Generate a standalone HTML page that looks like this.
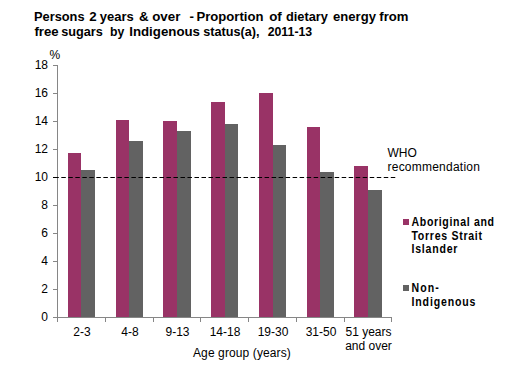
<!DOCTYPE html>
<html><head><meta charset="utf-8"><style>
html,body{margin:0;padding:0;background:#fff;width:505px;height:369px;overflow:hidden}
svg{display:block}
text{font-family:"Liberation Sans",sans-serif;fill:#000}
.t{font-size:13.33px;font-weight:bold}
.a{font-size:12px}
.l{font-size:12px;font-weight:bold}
</style></head><body>
<svg width="505" height="369" viewBox="0 0 505 369">
<rect width="505" height="369" fill="#fff"/>
<text class="t" x="34" y="21" textLength="50.56" lengthAdjust="spacingAndGlyphs">Persons</text><text class="t" x="89.2" y="21">2</text><text class="t" x="99.7" y="21" textLength="34.01" lengthAdjust="spacingAndGlyphs">years</text><text class="t" x="138.95" y="21">&amp;</text><text class="t" x="152.2" y="21">over</text><text class="t" x="189.4" y="21">-</text><text class="t" x="196.5" y="21" textLength="66.90" lengthAdjust="spacingAndGlyphs">Proportion</text><text class="t" x="269.2" y="21">of</text><text class="t" x="285.9" y="21" textLength="42.01" lengthAdjust="spacingAndGlyphs">dietary</text><text class="t" x="333.1" y="21" textLength="42.89" lengthAdjust="spacingAndGlyphs">energy</text><text class="t" x="379.3" y="21" textLength="29.12" lengthAdjust="spacingAndGlyphs">from</text>
<text class="t" x="34.4" y="35.5" textLength="24.21" lengthAdjust="spacingAndGlyphs">free</text><text class="t" x="61.14" y="35.5" textLength="41.66" lengthAdjust="spacingAndGlyphs">sugars</text><text class="t" x="110" y="35.5" textLength="14.32" lengthAdjust="spacingAndGlyphs">by</text><text class="t" x="129.2" y="35.5" textLength="70.81" lengthAdjust="spacingAndGlyphs">Indigenous</text><text class="t" x="203.2" y="35.5" textLength="56.29" lengthAdjust="spacingAndGlyphs">status(a),</text><text class="t" x="267.65" y="35.5" textLength="44.57" lengthAdjust="spacingAndGlyphs">2011-13</text>

<rect x="68" y="153" width="13" height="164" fill="#993366"/><rect x="81" y="170" width="14" height="147" fill="#626262"/><rect x="116" y="120" width="13" height="197" fill="#993366"/><rect x="129" y="141" width="14" height="176" fill="#626262"/><rect x="163" y="121" width="14" height="196" fill="#993366"/><rect x="177" y="131" width="14" height="186" fill="#626262"/><rect x="211" y="102" width="14" height="215" fill="#993366"/><rect x="225" y="124" width="13" height="193" fill="#626262"/><rect x="259" y="93" width="14" height="224" fill="#993366"/><rect x="273" y="145" width="13" height="172" fill="#626262"/><rect x="307" y="127" width="13" height="190" fill="#993366"/><rect x="320" y="172" width="14" height="145" fill="#626262"/><rect x="354" y="166" width="14" height="151" fill="#993366"/><rect x="368" y="190" width="14" height="127" fill="#626262"/>
<rect x="57" y="65" width="1" height="257" fill="#868686"/><rect x="53" y="65" width="4" height="1" fill="#868686"/><rect x="53" y="93" width="4" height="1" fill="#868686"/><rect x="53" y="121" width="4" height="1" fill="#868686"/><rect x="53" y="149" width="4" height="1" fill="#868686"/><rect x="53" y="177" width="4" height="1" fill="#868686"/><rect x="53" y="205" width="4" height="1" fill="#868686"/><rect x="53" y="233" width="4" height="1" fill="#868686"/><rect x="53" y="261" width="4" height="1" fill="#868686"/><rect x="53" y="289" width="4" height="1" fill="#868686"/><rect x="53" y="317" width="4" height="1" fill="#868686"/><rect x="57" y="317" width="335" height="1" fill="#868686"/><rect x="57" y="317" width="1" height="5" fill="#868686"/><rect x="105" y="317" width="1" height="5" fill="#868686"/><rect x="153" y="317" width="1" height="5" fill="#868686"/><rect x="200" y="317" width="1" height="5" fill="#868686"/><rect x="248" y="317" width="1" height="5" fill="#868686"/><rect x="296" y="317" width="1" height="5" fill="#868686"/><rect x="344" y="317" width="1" height="5" fill="#868686"/><rect x="391" y="317" width="1" height="5" fill="#868686"/>
<line x1="53" y1="177.5" x2="58.8" y2="177.5" stroke="#000" stroke-width="1"/><line x1="61.3" y1="177.5" x2="395.5" y2="177.5" stroke="#000" stroke-width="1" stroke-dasharray="4.5 2.51"/>
<g class="a">
<text x="49.4" y="59">%</text>
<text x="48" y="68.5" text-anchor="end">18</text><text x="48" y="96.5" text-anchor="end">16</text><text x="48" y="124.5" text-anchor="end">14</text><text x="48" y="152.5" text-anchor="end">12</text><text x="48" y="180.5" text-anchor="end">10</text><text x="48" y="208.5" text-anchor="end">8</text><text x="48" y="236.5" text-anchor="end">6</text><text x="48" y="264.5" text-anchor="end">4</text><text x="48" y="292.5" text-anchor="end">2</text><text x="48" y="320.5" text-anchor="end">0</text>
<text x="82.0" y="336" text-anchor="middle">2-3</text><text x="130.0" y="336" text-anchor="middle">4-8</text><text x="177.5" y="336" text-anchor="middle">9-13</text><text x="225.0" y="336" text-anchor="middle">14-18</text><text x="273.0" y="336" text-anchor="middle">19-30</text><text x="321.0" y="336" text-anchor="middle">31-50</text><text x="368.5" y="336" text-anchor="middle">51 years</text><text x="368.5" y="350" text-anchor="middle">and over</text>
<text x="193" y="357.2" textLength="97.75" lengthAdjust="spacing">Age group (years)</text>
<text x="387.5" y="157">WHO</text>
<text x="387.5" y="171" textLength="92.4" lengthAdjust="spacing">recommendation</text>
</g>
<rect x="403" y="219" width="6" height="6" fill="#993366"/>
<rect x="403" y="285" width="6" height="6" fill="#626262"/>
<g class="l" transform="translate(411.5,0) scale(0.88,1)">
<text x="0" y="226" textLength="93.75" lengthAdjust="spacing">Aboriginal and</text>
<text x="0" y="240" textLength="80.11" lengthAdjust="spacing">Torres Strait</text>
<text x="0" y="253.5" textLength="52.27" lengthAdjust="spacing">Islander</text>
<text x="0" y="292" textLength="31.02" lengthAdjust="spacing">Non-</text>
<text x="0" y="306" textLength="72.73" lengthAdjust="spacing">Indigenous</text>
</g>
</svg>
</body></html>
